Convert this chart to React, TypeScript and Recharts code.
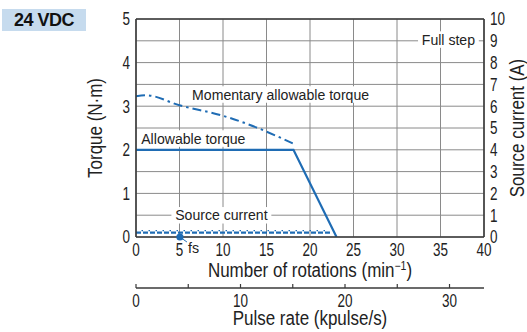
import React, { useLayoutEffect, useRef, useState } from 'react';
import {
  ComposedChart,
  Line,
  XAxis,
  YAxis,
  CartesianGrid,
  ReferenceDot,
  ReferenceLine,
} from 'recharts';

const FONT = "'Liberation Sans', Arial, sans-serif";
const BLUE = '#1f6cb4';
const GRID = '#8a8a8a';
const AXIS = '#3a3a3a';
const TEXT = '#222222';

// ---- data ----
const rotationTicks = [0, 5, 10, 15, 20, 25, 30, 35, 40];
const torqueTicks = [0, 1, 2, 3, 4, 5];
const currentTicks = [0, 1, 2, 3, 4, 5, 6, 7, 8, 9, 10];
const pulseTicks = [0, 5, 10, 15, 20, 25, 30];
const pulseLabelTicks = [0, 10, 20, 30];
const pulseMax = 33.3;

const allowableRot = [0, 18.1, 23.05];
const allowableTorque = [2.0, 2.0, 0];

const momentaryRot = [0, 1.2, 5, 10, 14, 16, 18.1];
const momentaryTorque = [3.23, 3.25, 3.02, 2.78, 2.5, 2.33, 2.14];

const sourceRot = [0, 22.3];
const sourceCurrentA = [0.2, 0.2];
const sourceCurrentB = [0.29, 0.29];

const fsRot = 5.05;
const fsTorque = 0;

const annotationTexts = ['Momentary allowable torque', 'Allowable torque', 'Source current', 'Full step'];
const annotationRot = [6.45, 0.6, 4.5, 32.85];
const annotationTorque = [3.15, 2.14, 0.38, 4.41];

const zip = (xs: number[], ys: number[], key: string) => xs.map((x, i) => ({ rot: x, [key]: ys[i] }));

const allowableData = zip(allowableRot, allowableTorque, 'torque');
const momentaryData = zip(momentaryRot, momentaryTorque, 'torque');
const sourceDataA = zip(sourceRot, sourceCurrentA, 'current');
const sourceDataB = zip(sourceRot, sourceCurrentB, 'current');
const pulseAxisData = pulseTicks.map((p) => ({ pulse: p }));

// ---- helpers ----
function SText({
  x,
  y,
  sx = 1,
  size,
  anchor = 'start',
  rotate = false,
  children,
}: {
  x: number;
  y: number;
  sx?: number;
  size: number;
  anchor?: 'start' | 'middle' | 'end';
  rotate?: boolean;
  children: React.ReactNode;
}) {
  return (
    <text
      transform={`translate(${x},${y})${rotate ? ' rotate(-90)' : ''} scale(${sx},1)`}
      x={0}
      y={0}
      textAnchor={anchor}
      fontSize={size}
      fontFamily={FONT}
      fill={TEXT}
    >
      {children}
    </text>
  );
}

const TICK_SIZE = 17.5;
const TICK_SX = 0.77;
const TITLE_SIZE = 19.5;
const TITLE_SX = 0.87;

function BoxedText({ cx, cy, text }: { cx: number; cy: number; text: string }) {
  const ref = useRef<SVGTextElement>(null);
  const [bb, setBb] = useState<{ x: number; y: number; w: number; h: number } | null>(null);
  useLayoutEffect(() => {
    if (ref.current) {
      const b = ref.current.getBBox();
      setBb({ x: b.x, y: b.y, w: b.width, h: b.height });
    }
  }, [cx, cy, text]);
  return (
    <g transform={`translate(${cx},${cy}) scale(0.94,1)`}>
      {bb && <rect x={bb.x - 4} y={bb.y} width={bb.w + 8} height={bb.h} fill="#ffffff" />}
      <text ref={ref} x={0} y={0} fontSize={15} fontFamily={FONT} fill={TEXT}>
        {text}
      </text>
    </g>
  );
}

const FsMarker = (props: any) => {
  const { cx, cy } = props;
  if (cx == null || cy == null) return null;
  return (
    <g>
      <line x1={cx} y1={cy} x2={cx + 7} y2={cy + 5} stroke={BLUE} strokeWidth={1} />
      <circle cx={cx} cy={cy} r={3.6} fill={BLUE} />
      <SText x={cx + 8} y={cy + 16} size={15} sx={0.95}>
        fs
      </SText>
    </g>
  );
};

const RotTick = (props: any) => {
  const { x, y, payload } = props;
  return (
    <SText x={x} y={y + 19} size={TICK_SIZE} sx={TICK_SX} anchor="middle">
      {payload.value}
    </SText>
  );
};

const PulseTick = (props: any) => {
  const { x, y, payload } = props;
  const v = payload.value;
  return (
    <g>
      <line x1={x} x2={x} y1={y} y2={y - 4} stroke={AXIS} strokeWidth={1.2} />
      {pulseLabelTicks.includes(v) && (
        <SText x={x} y={y + 18.5} size={TICK_SIZE} sx={TICK_SX} anchor="middle">
          {v}
        </SText>
      )}
    </g>
  );
};

const LeftTick = (props: any) => {
  const { x, y, payload } = props;
  return (
    <SText x={x - 6} y={y + 6.3} size={TICK_SIZE} sx={TICK_SX} anchor="end">
      {payload.value}
    </SText>
  );
};

const RightTick = (props: any) => {
  const { x, y, payload } = props;
  return (
    <SText x={x + 6} y={y + 6.3} size={TICK_SIZE} sx={TICK_SX} anchor="start">
      {payload.value}
    </SText>
  );
};

export default function App() {
  return (
    <div style={{ position: 'absolute', left: 0, top: 0, width: 527, height: 332, background: '#fff' }}>
      <div
        style={{
          position: 'absolute',
          left: 2,
          top: 9,
          width: 84,
          height: 22,
          background: '#c6dbee',
          display: 'flex',
          alignItems: 'center',
          justifyContent: 'center',
          fontFamily: FONT,
          fontWeight: 'bold',
          fontSize: 18,
          letterSpacing: -0.5,
          color: '#111',
        }}
      >
        24 VDC
      </div>
      <ComposedChart
        width={527}
        height={332}
        data={pulseAxisData}
        margin={{ top: 19, right: 0, bottom: 0, left: 96 }}
        style={{ position: 'absolute', left: 0, top: 0 }}
      >
        <CartesianGrid xAxisId="a" yAxisId="cur" stroke={GRID} strokeWidth={1} />
        <XAxis
          xAxisId="b"
          dataKey="pulse"
          type="number"
          domain={[0, pulseMax]}
          allowDataOverflow
          ticks={pulseTicks}
          interval={0}
          height={44}
          tickLine={false}
          tickSize={0}
          tickMargin={0}
          tick={<PulseTick />}
          axisLine={{ stroke: AXIS, strokeWidth: 1.4 }}
          label={({ viewBox }: any) => (
            <SText x={viewBox.x + viewBox.width / 2} y={viewBox.y + 37} size={TITLE_SIZE} sx={TITLE_SX} anchor="middle">
              Pulse rate (kpulse/s)
            </SText>
          )}
        />
        <XAxis
          xAxisId="a"
          dataKey="rot"
          type="number"
          domain={[0, 40]}
          allowDataOverflow
          ticks={rotationTicks}
          interval={0}
          height={51}
          tickLine={false}
          tickSize={0}
          tickMargin={0}
          tick={<RotTick />}
          axisLine={{ stroke: AXIS, strokeWidth: 1.6 }}
          label={({ viewBox }: any) => (
            <SText x={viewBox.x + viewBox.width / 2} y={viewBox.y + 40} size={TITLE_SIZE} sx={TITLE_SX} anchor="middle">
              Number of rotations (min
              <tspan dy={-7} fontSize={12}>
                −1
              </tspan>
              <tspan dy={7}>)</tspan>
            </SText>
          )}
        />
        <YAxis
          yAxisId="torque"
          orientation="left"
          type="number"
          domain={[0, 5]}
          allowDataOverflow
          ticks={torqueTicks}
          interval={0}
          width={40}
          tickLine={false}
          tickSize={0}
          tickMargin={0}
          tick={<LeftTick />}
          axisLine={{ stroke: AXIS, strokeWidth: 1.6 }}
          label={({ viewBox }: any) => (
            <SText x={viewBox.x + 6} y={viewBox.y + viewBox.height / 2} size={TITLE_SIZE} sx={TITLE_SX} anchor="middle" rotate>
              Torque (N·m)
            </SText>
          )}
        />
        <YAxis
          yAxisId="cur"
          orientation="right"
          type="number"
          domain={[0, 10]}
          allowDataOverflow
          ticks={currentTicks}
          interval={0}
          width={43}
          tickLine={false}
          tickSize={0}
          tickMargin={0}
          tick={<RightTick />}
          axisLine={{ stroke: AXIS, strokeWidth: 1.6 }}
          label={({ viewBox }: any) => (
            <SText
              x={viewBox.x + viewBox.width - 3}
              y={viewBox.y + viewBox.height / 2}
              size={TITLE_SIZE}
              sx={TITLE_SX}
              anchor="middle"
              rotate
            >
              Source current (A)
            </SText>
          )}
        />
        <ReferenceLine xAxisId="a" yAxisId="torque" y={5} stroke={AXIS} strokeWidth={1.6} />

        {annotationTexts.map((t, i) => (
          <ReferenceDot
            key={t}
            xAxisId="a"
            yAxisId="torque"
            x={annotationRot[i]}
            y={annotationTorque[i]}
            r={1}
            shape={(p: any) => <BoxedText cx={p.cx} cy={p.cy} text={t} />}
          />
        ))}

        <Line
          xAxisId="a"
          yAxisId="cur"
          data={sourceDataA}
          dataKey="current"
          stroke={BLUE}
          strokeWidth={2.2}
          strokeDasharray="5 2"
          dot={false}
          isAnimationActive={false}
        />
        <Line
          xAxisId="a"
          yAxisId="cur"
          data={sourceDataB}
          dataKey="current"
          stroke={BLUE}
          strokeWidth={1.3}
          strokeDasharray="1.5 5.5"
          strokeDashoffset={-5.5}
          dot={false}
          isAnimationActive={false}
        />
        <Line
          xAxisId="a"
          yAxisId="torque"
          data={momentaryData}
          dataKey="torque"
          type="monotone"
          stroke={BLUE}
          strokeWidth={2}
          strokeDasharray="9 4 2.5 4"
          dot={false}
          isAnimationActive={false}
        />
        <Line
          xAxisId="a"
          yAxisId="torque"
          data={allowableData}
          dataKey="torque"
          type="linear"
          stroke={BLUE}
          strokeWidth={2.2}
          dot={false}
          isAnimationActive={false}
        />
        <ReferenceDot
          xAxisId="a"
          yAxisId="torque"
          x={fsRot}
          y={fsTorque}
          r={3.6}
          shape={(p: any) => <FsMarker cx={p.cx} cy={p.cy} />}
        />
      </ComposedChart>
    </div>
  );
}
